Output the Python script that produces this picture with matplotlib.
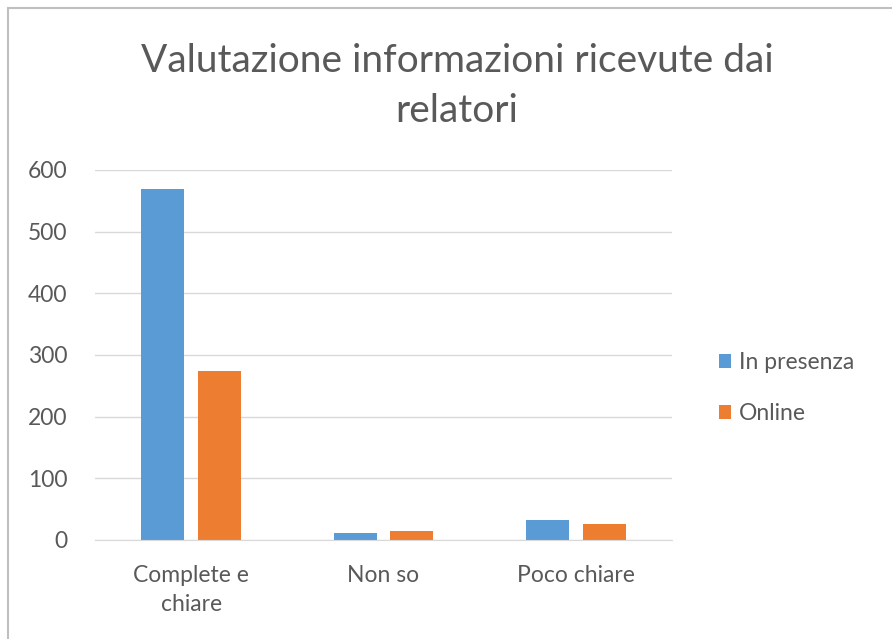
import numpy as np
import matplotlib.pyplot as plt
from matplotlib.patches import Rectangle

categories = ["Complete e\nchiare", "Non so", "Poco chiare"]
in_presenza = [569, 11, 33]
online = [274, 15, 26]
series_names = ["In presenza", "Online"]
yticks = [0, 100, 200, 300, 400, 500, 600]

blue = "#5b9bd5"
orange = "#ed7d31"
text_gray = "#595959"

plt.rcParams["font.family"] = ["Lato", "DejaVu Sans"]

fig = plt.figure(figsize=(8.92, 6.39), dpi=100)
ax = fig.add_axes([95 / 892, 1 - 540 / 639, 577 / 892, 370 / 639])

# chart frame (only left and top edges fall inside the picture)
fig.patches.append(Rectangle((8 / 892, -0.1), 1.2, 1.1 - 8 / 639,
                             transform=fig.transFigure, fill=False,
                             edgecolor="#bfbfbf", linewidth=1.5))

x = np.arange(len(categories))
w = 0.223
ax.bar(x - 0.147, in_presenza, w, color=blue, label=series_names[0], zorder=3)
ax.bar(x + 0.147, online, w, color=orange, label=series_names[1], zorder=3)

ax.set_xlim(-0.5, 2.5)
ax.set_ylim(0, 600)
ax.set_yticks(yticks)
ax.set_xticks(x)
ax.set_xticklabels(categories, fontsize=16.5, color=text_gray, linespacing=1.45)
ax.tick_params(axis="y", labelsize=16.5, labelcolor=text_gray, length=0, pad=20)
ax.tick_params(axis="x", length=0, pad=18)
ax.grid(axis="y", color="#d9d9d9", linewidth=1, zorder=0)
for s in ["top", "right", "left"]:
    ax.spines[s].set_visible(False)
ax.spines["bottom"].set_color("#d9d9d9")
ax.spines["bottom"].set_zorder(4)

fig.text(457 / 892, 1 - 86 / 639, "Valutazione informazioni ricevute dai\nrelatori",
         ha="center", va="center", fontsize=28, color=text_gray, linespacing=1.5)

leg = ax.legend(loc="center left", bbox_to_anchor=(1.045, 1 - (388 - 170) / 370),
                frameon=False, fontsize=16.5, handlelength=0.55, handleheight=0.55,
                handletextpad=0.35, labelspacing=1.3, labelcolor=text_gray)

fig.savefig("out.png", dpi=100)
